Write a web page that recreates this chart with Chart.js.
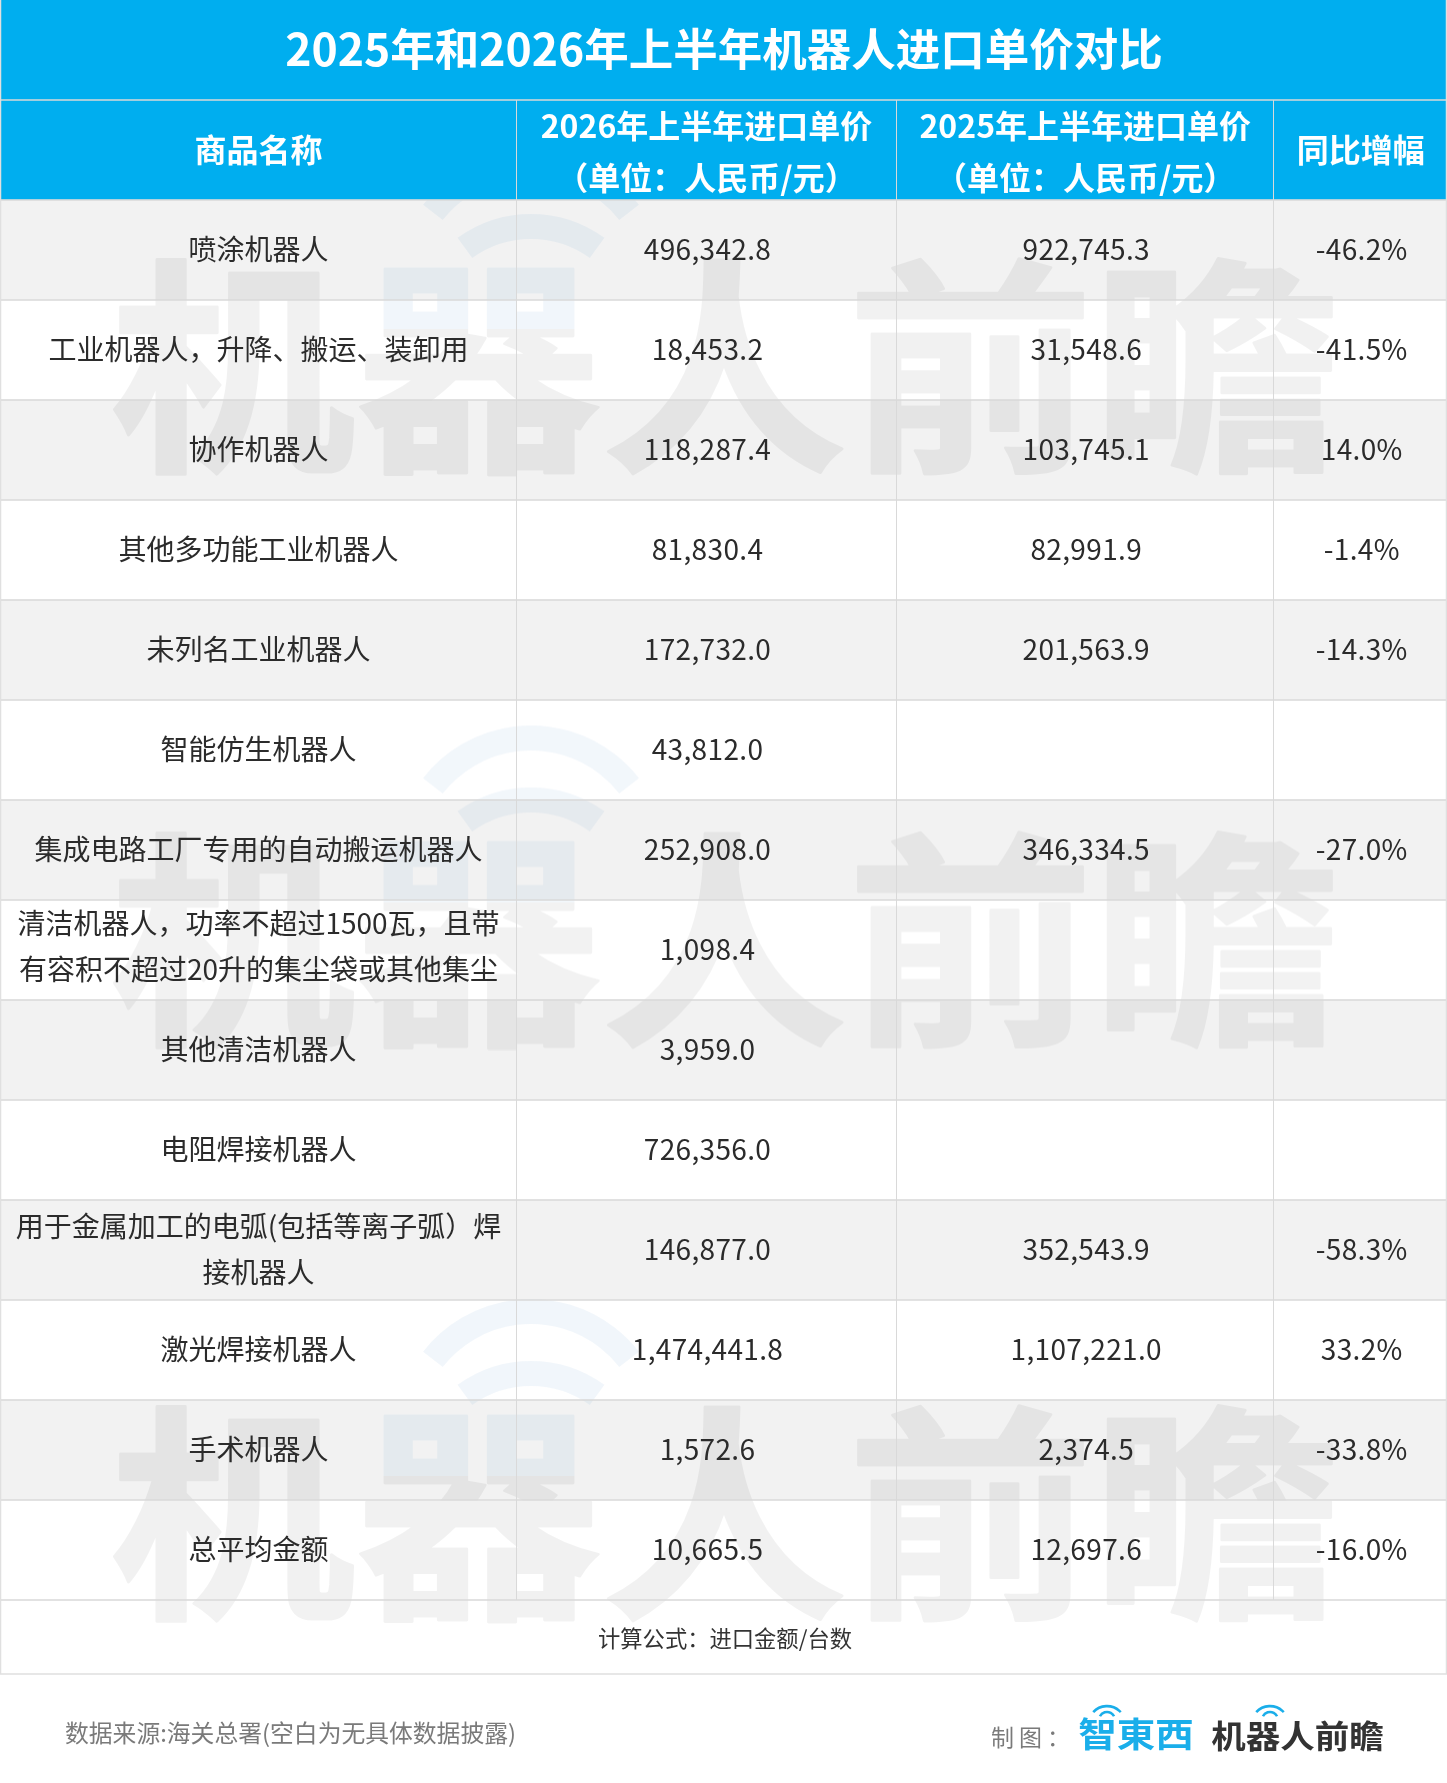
<!DOCTYPE html>
<html lang="zh-CN">
<head>
<meta charset="utf-8">
<style>html,body{margin:0;padding:0;background:#fff;overflow:hidden}canvas{display:block}</style>
<script src="https://cdn.jsdelivr.net/npm/chart.js@4"></script>
</head>
<body>
<canvas id="c" width="1447" height="1783" style="width:1447px;height:1783px"></canvas>
<script>
const titleText = '2025年和2026年上半年机器人进口单价对比';
const headers = [['商品名称'], ['2026年上半年进口单价', '（单位：人民币/元）'], ['2025年上半年进口单价', '（单位：人民币/元）'], ['同比增幅']];
const products = ['喷涂机器人', '工业机器人，升降、搬运、装卸用', '协作机器人', '其他多功能工业机器人', '未列名工业机器人', '智能仿生机器人', '集成电路工厂专用的自动搬运机器人', '清洁机器人，功率不超过1500瓦，且带有容积不超过20升的集尘袋或其他集尘', '其他清洁机器人', '电阻焊接机器人', '用于金属加工的电弧(包括等离子弧）焊接机器人', '激光焊接机器人', '手术机器人', '总平均金额'];
const price2026 = [496342.8, 18453.2, 118287.4, 81830.4, 172732.0, 43812.0, 252908.0, 1098.4, 3959.0, 726356.0, 146877.0, 1474441.8, 1572.6, 10665.5];
const price2025 = [922745.3, 31548.6, 103745.1, 82991.9, 201563.9, null, 346334.5, null, null, null, 352543.9, 1107221.0, 2374.5, 12697.6];
const yoyGrowth = [-46.2, -41.5, 14.0, -1.4, -14.3, null, -27.0, null, null, null, -58.3, 33.2, -33.8, -16.0];
const formulaNote = '计算公式：进口金额/台数';
const sourceNote = '数据来源:海关总署(空白为无具体数据披露)';
const makerLabel = '制图：';
const brandA = '智東西';
const brandB = '机器人前瞻';

const columnEdges = [0, 516, 896, 1273.5, 1447];
const FONT = '"Noto Sans CJK SC","Noto Sans",sans-serif';
const BLUE = '#00aeef', ZEBRA = '#f2f2f2', GRID = '#d9d9d9';
const rowLabels = ['title', 'header', ...products];

const fmt = v => v == null ? '' : v.toLocaleString('en-US', {minimumFractionDigits: 1, maximumFractionDigits: 1});
const pct = v => v == null ? '' : v.toFixed(1) + '%';

function cellBars(col) {
  return rowLabels.map((_, r) => {
    if (r === 0) return col === 0 ? [columnEdges[0], columnEdges[4]] : null;
    return [columnEdges[col], columnEdges[col + 1]];
  });
}
function rowFill(ctx) {
  const r = ctx.dataIndex;
  if (r < 2) return BLUE;
  return (r - 2) % 2 === 0 ? ZEBRA : '#ffffff';
}
function wrapText(ctx, s, maxW) {
  const lines = []; let cur = '';
  for (const ch of s) {
    if (ctx.measureText(cur + ch).width > maxW) { lines.push(cur); cur = ch; } else cur += ch;
  }
  if (cur) lines.push(cur);
  return lines;
}
function txt(ctx, s, x, y, font, color, align) {
  ctx.font = font; ctx.fillStyle = color; ctx.textAlign = align || 'center'; ctx.textBaseline = 'middle';
  ctx.fillText(s, x, y);
}
function num(ctx, s, x, y, font, color) {
  ctx.save();
  ctx.letterSpacing = '0.35px';
  txt(ctx, s, x + 1.5, y, font, color);
  ctx.restore();
}
function arc(ctx, cx, cy, r, halfDeg, w, color) {
  const a = halfDeg * Math.PI / 180;
  ctx.beginPath(); ctx.arc(cx, cy, r, -Math.PI / 2 - a, -Math.PI / 2 + a);
  ctx.lineWidth = w; ctx.strokeStyle = color; ctx.lineCap = 'butt'; ctx.stroke();
}
function buildWatermark() {
  const W = 1447, H = 370;
  const off = document.createElement('canvas'); off.width = W; off.height = H;
  const g = off.getContext('2d');
  const textTop = 150;
  g.save();
  g.translate(724.5, textTop + 110);
  g.scale(1, 0.93);
  g.font = 'bold 246px ' + FONT; g.textAlign = 'center'; g.textBaseline = 'middle';
  g.fillStyle = '#000'; g.strokeStyle = '#000'; g.lineWidth = 3; g.lineJoin = 'round';
  g.fillText(brandB, 0, 0); g.strokeText(brandB, 0, 0);
  g.restore();
  g.globalCompositeOperation = 'source-atop';
  g.fillStyle = 'rgb(0,102,182)';
  g.fillRect(355, textTop, 238, 72);
  g.globalCompositeOperation = 'source-over';
  arc(g, 531, textTop + 32, 124.5, 52, 25, 'rgb(0,102,182)');
  arc(g, 531, textTop + 82, 112.5, 36, 25, 'rgb(0,102,182)');
  return off;
}

const tablePlugin = {
  id: 'table',
  afterDatasetsDraw(chart) {
    const ctx = chart.ctx, xs = chart.scales.x, ys = chart.scales.y;
    const meta = c => chart.getDatasetMeta(c).data;
    const bandTop = r => meta(0)[r].y - meta(0)[r].height / 2;
    const bandBottom = r => meta(0)[r].y + meta(0)[r].height / 2;
    const center = (c, r) => meta(c)[r].getCenterPoint();
    const last = rowLabels.length - 1;
    const left = xs.left, right = xs.right;
    const formulaBottom = ys.bottom + 74;

    // watermark
    const wm = buildWatermark();
    ctx.save();
    ctx.beginPath(); ctx.rect(0, bandTop(2), 1447, formulaBottom - bandTop(2)); ctx.clip();
    ctx.globalAlpha = 0.05;
    [107, 680.5, 1254].forEach(y => ctx.drawImage(wm, 0, y));
    ctx.restore();

    // grid lines
    ctx.save();
    ctx.strokeStyle = GRID; ctx.lineWidth = 1.5;
    for (let r = 0; r <= last; r++) {
      const y = Math.round(bandBottom(r));
      ctx.beginPath(); ctx.moveTo(left, y); ctx.lineTo(right, y); ctx.stroke();
    }
    ctx.lineWidth = 1;
    for (let i = 1; i < 4; i++) {
      const x = Math.floor(xs.getPixelForValue(columnEdges[i])) + 0.5;
      ctx.beginPath(); ctx.moveTo(x, bandTop(1)); ctx.lineTo(x, bandBottom(last)); ctx.stroke();
    }
    ctx.lineWidth = 1.5; ctx.strokeStyle = '#e0e0e0';
    ctx.beginPath();
    ctx.moveTo(0.5, 0); ctx.lineTo(0.5, formulaBottom); ctx.lineTo(right - 0.5, formulaBottom); ctx.lineTo(right - 0.5, 0);
    ctx.stroke();
    ctx.restore();

    // title + header
    const tc = center(0, 0);
    txt(ctx, titleText, tc.x + 0.5, tc.y - 1, 'bold 44.5px ' + FONT, '#ffffff');
    headers.forEach((lines, c) => {
      const p = center(c, 1);
      if (lines.length === 1) txt(ctx, lines[0], p.x + 0.5, p.y, 'bold 32px ' + FONT, '#ffffff');
      else lines.forEach((l, i) => txt(ctx, l, p.x + 0.5, p.y + (i === 0 ? -24 : 28), 'bold 32px ' + FONT, '#ffffff'));
    });

    // body
    const bodyFont = '28px ' + FONT, ink = '#2b2b2b';
    const wrapShift = {7: -4, 10: -1};
    products.forEach((name, i) => {
      const r = i + 2;
      ctx.font = bodyFont;
      const lines = wrapText(ctx, name, 490);
      const p = center(0, r);
      if (lines.length === 1) txt(ctx, lines[0], p.x + 0.5, p.y - 1, bodyFont, ink);
      else lines.forEach((l, k) => txt(ctx, l, p.x + 0.5, p.y + (wrapShift[i] || 0) + (k === 0 ? -23 : 23), bodyFont, ink));
      num(ctx, fmt(price2026[i]), center(1, r).x, center(1, r).y - 1, bodyFont, ink);
      num(ctx, fmt(price2025[i]), center(2, r).x, center(2, r).y - 1, bodyFont, ink);
      num(ctx, pct(yoyGrowth[i]), center(3, r).x, center(3, r).y - 1, bodyFont, ink);
    });

    // notes and brand footer
    txt(ctx, formulaNote, 725, ys.bottom + 39, '22.3px ' + FONT, '#333333');
    txt(ctx, sourceNote, 65, ys.bottom + 133, '23.8px ' + FONT, '#7a7a7a', 'left');
    ctx.save();
    ctx.letterSpacing = '5px';
    txt(ctx, makerLabel, 991, ys.bottom + 137, '23px ' + FONT, '#7a7a7a', 'left');
    ctx.restore();

    ctx.save();
    ctx.translate(1136, ys.bottom + 134); ctx.scale(1, 0.9);
    txt(ctx, brandA, 0, 0, 'bold 38.5px ' + FONT, '#1aaeea');
    ctx.restore();
    arc(ctx, 1107, ys.bottom + 124.6, 18.5, 48, 2.6, '#1aaeea');
    arc(ctx, 1107, ys.bottom + 120, 8, 62, 2.6, '#1aaeea');

    ctx.save();
    ctx.translate(1297.5, ys.bottom + 136); ctx.scale(1, 0.92);
    txt(ctx, brandB, 0, 0, 'bold 34.5px ' + FONT, '#333333');
    ctx.restore();
    arc(ctx, 1270, ys.bottom + 124.6, 18.5, 48, 2.6, '#1aaeea');
    arc(ctx, 1270, ys.bottom + 120, 8, 62, 2.6, '#1aaeea');
  }
};

new Chart(document.getElementById('c'), {
  type: 'bar',
  data: {
    labels: rowLabels,
    datasets: [0, 1, 2, 3].map(c => ({
      label: headers[c][0],
      data: cellBars(c),
      backgroundColor: rowFill,
      borderWidth: 0,
      barPercentage: 1,
      categoryPercentage: 1,
      grouped: false
    }))
  },
  options: {
    indexAxis: 'y',
    responsive: false,
    devicePixelRatio: 1,
    animation: false,
    layout: {padding: {left: 0, right: 0, top: 0, bottom: 183}},
    plugins: {legend: {display: false}, tooltip: {enabled: false}, title: {display: false}},
    scales: {
      x: {type: 'linear', min: columnEdges[0], max: columnEdges[4], display: false},
      y: {type: 'category', display: false, offset: true, grid: {display: false}}
    }
  },
  plugins: [tablePlugin]
});
</script>
</body>
</html>
